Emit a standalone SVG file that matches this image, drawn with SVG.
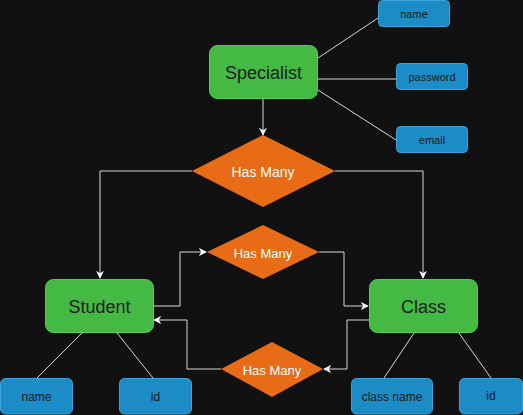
<svg xmlns="http://www.w3.org/2000/svg" width="523" height="415" viewBox="0 0 523 415">
<style>
.ent{fill:#44BA44;stroke:#5cc85c;stroke-width:1}
.att{fill:#1B8CC6;stroke:#3aa3dc;stroke-width:1}
.rel{fill:#E86B15;stroke:none}
.et{font-family:"Liberation Sans",Arial,sans-serif;font-size:18px;fill:#1a1a1a;text-anchor:middle;dominant-baseline:central}
.at{font-family:"Liberation Sans",Arial,sans-serif;font-size:11px;fill:#1a1a1a;text-anchor:middle;dominant-baseline:central}
.ab{font-family:"Liberation Sans",Arial,sans-serif;font-size:12px;fill:#1a1a1a;text-anchor:middle;dominant-baseline:central}
.rt{font-family:"Liberation Sans",Arial,sans-serif;font-size:13px;fill:#ffffff;text-anchor:middle;dominant-baseline:central}
.ln{fill:none;stroke:#d8d8d8;stroke-width:1}
</style>
<defs>
<marker id="arr" viewBox="0 0 10 10" refX="9" refY="5" markerWidth="8" markerHeight="8" orient="auto" markerUnits="userSpaceOnUse">
<path d="M0,0 L10,5 L0,10 L3,5 Z" fill="#ffffff"/>
</marker>
</defs>
<rect width="523" height="415" fill="#111111"/>
<g id="connectors">
<line class="ln" x1="318" y1="58" x2="378" y2="18"/>
<line class="ln" x1="318" y1="79" x2="396" y2="79"/>
<line class="ln" x1="318" y1="90" x2="396" y2="140"/>
<path class="ln" d="M263,99 L263,135" marker-end="url(#arr)"/>
<path class="ln" d="M192,171 L100,171 L100,278" marker-end="url(#arr)"/>
<path class="ln" d="M335,171 L423,171 L423,278" marker-end="url(#arr)"/>
<path class="ln" d="M153,306 L180,306 L180,252 L206,252" marker-end="url(#arr)"/>
<path class="ln" d="M319,252 L344,252 L344,306 L368,306" marker-end="url(#arr)"/>
<path class="ln" d="M369,320 L347,320 L347,369 L324,369" marker-end="url(#arr)"/>
<path class="ln" d="M221,369 L187,369 L187,320 L154,320" marker-end="url(#arr)"/>
<line class="ln" x1="82" y1="333" x2="37" y2="378"/>
<line class="ln" x1="117" y1="333" x2="153" y2="378"/>
<line class="ln" x1="414" y1="333" x2="384" y2="378"/>
<line class="ln" x1="459" y1="333" x2="491" y2="378"/>
</g>
<g id="specialist"><rect class="ent" x="209.5" y="45.5" width="108" height="53" rx="8"/><text class="et" x="263.5" y="73">Specialist</text></g>
<g id="sp-name"><rect class="att" x="378.5" y="0.5" width="71" height="26" rx="4"/><text class="at" x="414" y="14">name</text></g>
<g id="sp-password"><rect class="att" x="396.5" y="63.5" width="71" height="26" rx="4"/><text class="at" x="432" y="77">password</text></g>
<g id="sp-email"><rect class="att" x="396.5" y="126.5" width="71" height="26" rx="4"/><text class="at" x="432" y="140">email</text></g>
<g id="rel1"><polygon class="rel" points="263,135 335,171 263,207 192,171"/><text class="rt" x="263" y="172" style="font-size:14px">Has Many</text></g>
<g id="rel2"><polygon class="rel" points="263,225 319,252 263,279 207,252"/><text class="rt" x="263" y="253">Has Many</text></g>
<g id="rel3"><polygon class="rel" points="272,342 323,369 272,397 221,369"/><text class="rt" x="272" y="370">Has Many</text></g>
<g id="student"><rect class="ent" x="45.5" y="279.5" width="108" height="53" rx="8"/><text class="et" x="99.5" y="307">Student</text></g>
<g id="class"><rect class="ent" x="369.5" y="279.5" width="108" height="53" rx="8"/><text class="et" x="423.5" y="307">Class</text></g>
<g id="st-name"><rect class="att" x="0.5" y="378.5" width="72" height="35.5" rx="5"/><text class="ab" x="36.5" y="397">name</text></g>
<g id="st-id"><rect class="att" x="119.5" y="378.5" width="72" height="35.5" rx="5"/><text class="ab" x="155.5" y="397">id</text></g>
<g id="cl-name"><rect class="att" x="351.5" y="378.5" width="81" height="35.5" rx="5"/><text class="ab" x="392" y="397">class name</text></g>
<g id="cl-id"><rect class="att" x="459.5" y="378.5" width="63" height="35.5" rx="5"/><text class="ab" x="491" y="396">id</text></g>
</svg>
